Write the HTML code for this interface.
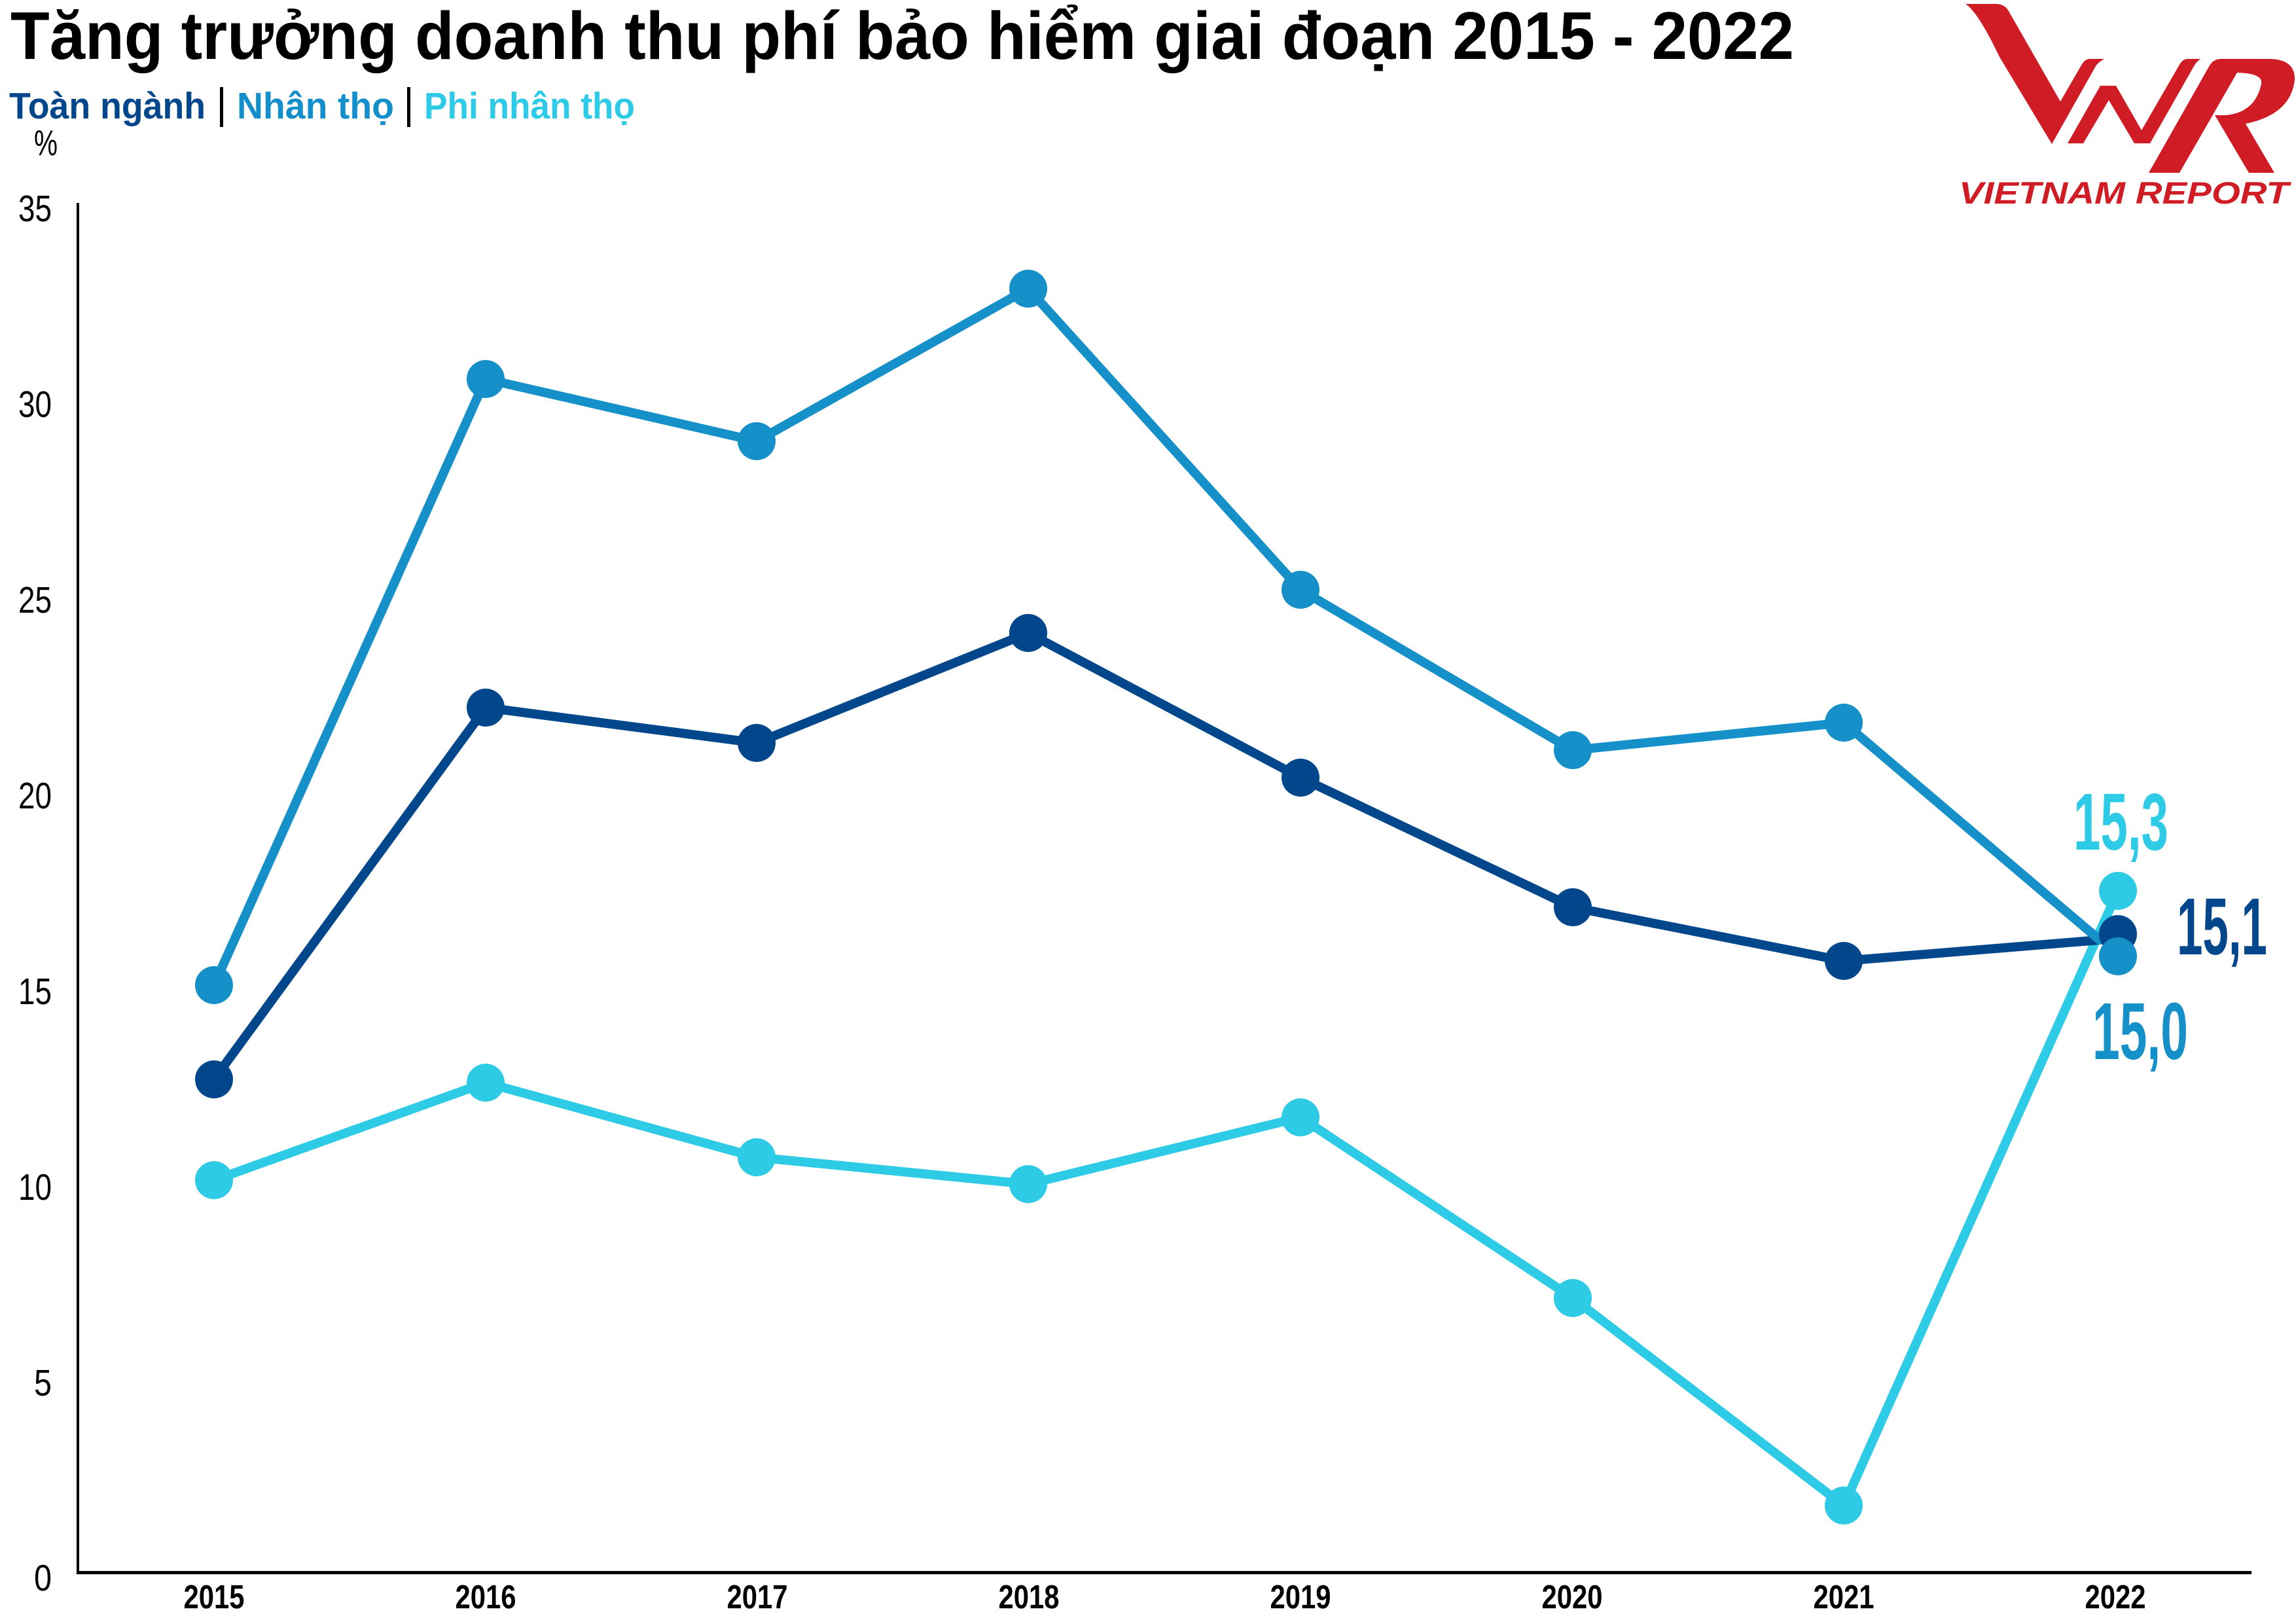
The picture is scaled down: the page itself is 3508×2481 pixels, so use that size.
<!DOCTYPE html>
<html><head><meta charset="utf-8"><style>
html,body{margin:0;padding:0;background:#fff;}
svg{display:block;}
text{font-family:"Liberation Sans",sans-serif;}
</style></head><body>
<svg width="3508" height="2481" viewBox="0 0 3508 2481" xmlns="http://www.w3.org/2000/svg">
<rect width="3508" height="2481" fill="#fff"/>
<!-- Title -->
<text x="16" y="90" font-size="103" font-weight="bold" fill="#000" textLength="2725" lengthAdjust="spacingAndGlyphs">Tăng trưởng doanh thu phí bảo hiểm giai đoạn 2015 - 2022</text>
<!-- Legend -->
<text x="14" y="181" font-size="57" font-weight="bold" fill="#02478c" textLength="300" lengthAdjust="spacingAndGlyphs">Toàn ngành</text>
<rect x="336" y="133" width="5" height="61" fill="#000"/>
<text x="362" y="181" font-size="57" font-weight="bold" fill="#1390cb" textLength="240" lengthAdjust="spacingAndGlyphs">Nhân thọ</text>
<rect x="622" y="133" width="5" height="61" fill="#000"/>
<text x="648" y="181" font-size="57" font-weight="bold" fill="#2ecbe8" textLength="322" lengthAdjust="spacingAndGlyphs">Phi nhân thọ</text>
<text x="52" y="237" font-size="55" fill="#000" textLength="36" lengthAdjust="spacingAndGlyphs">%</text>

<!-- Logo -->
<g fill="#cf1c25">
<path d="M3003,6 L3049,6 Q3063,6 3069,17 L3148,155 L3181,98 Q3186,90 3193,90 L3215,90 Q3205,96 3202,101 L3135,220 L3055,87 Q3022,18 3003,6 Z"/>
<path d="M3159,219 L3209,131 L3233,131 L3272,199 L3331,97 Q3336,90 3342,90 L3362,90 Q3355,95 3351,103 L3285,219 L3261,219 L3222,153 L3183,219 Z"/>
<path d="M3283,264 L3376,100 Q3382,90 3394,90 L3466,90 Q3507,90 3506,122 Q3500,175 3431,189 L3475,264 L3436,264 L3384,176 L3400,176 Q3446,172 3455,128 Q3458,112 3418,111 L3330,264 Z"/>
<text x="2993" y="311" font-size="47" font-weight="bold" font-style="italic" textLength="504" lengthAdjust="spacingAndGlyphs">VIETNAM REPORT</text>
</g>

<!-- Axes -->
<rect x="117" y="310" width="4" height="2095" fill="#000"/>
<rect x="117" y="2400" width="3323" height="5" fill="#000"/>

<!-- Y tick labels -->
<g font-size="57" fill="#000" text-anchor="end">
<text x="79" y="338" textLength="51" lengthAdjust="spacingAndGlyphs">35</text>
<text x="79" y="637" textLength="51" lengthAdjust="spacingAndGlyphs">30</text>
<text x="79" y="936" textLength="51" lengthAdjust="spacingAndGlyphs">25</text>
<text x="79" y="1235" textLength="51" lengthAdjust="spacingAndGlyphs">20</text>
<text x="79" y="1534" textLength="51" lengthAdjust="spacingAndGlyphs">15</text>
<text x="79" y="1833" textLength="51" lengthAdjust="spacingAndGlyphs">10</text>
<text x="79" y="2132" textLength="27" lengthAdjust="spacingAndGlyphs">5</text>
<text x="79" y="2430" textLength="27" lengthAdjust="spacingAndGlyphs">0</text>
</g>

<!-- X tick labels -->
<g font-size="51" font-weight="bold" fill="#000" text-anchor="middle">
<text x="327" y="2457" textLength="93" lengthAdjust="spacingAndGlyphs">2015</text>
<text x="742" y="2457" textLength="93" lengthAdjust="spacingAndGlyphs">2016</text>
<text x="1157" y="2457" textLength="93" lengthAdjust="spacingAndGlyphs">2017</text>
<text x="1572" y="2457" textLength="93" lengthAdjust="spacingAndGlyphs">2018</text>
<text x="1987" y="2457" textLength="93" lengthAdjust="spacingAndGlyphs">2019</text>
<text x="2402" y="2457" textLength="93" lengthAdjust="spacingAndGlyphs">2020</text>
<text x="2817" y="2457" textLength="93" lengthAdjust="spacingAndGlyphs">2021</text>
<text x="3232" y="2457" textLength="93" lengthAdjust="spacingAndGlyphs">2022</text>
</g>

<!-- Lines -->
<g fill="none" stroke-width="14" stroke-linejoin="round" stroke-linecap="round">
<polyline stroke="#2ecbe7" points="327,1803 742,1654 1156,1768 1571,1809 1987,1707 2403,1983 2817,2300 3236,1361"/>
<polyline stroke="#02478b" points="327,1649 742,1081 1156,1135 1571,967 1987,1188 2403,1386 2817,1468 3208,1436"/>
<polyline stroke="#1590c9" points="327,1505 742,579 1156,674 1571,441 1987,901 2403,1146 2817,1104 3208,1436"/>
</g>

<!-- Markers -->
<g fill="#2ecbe7">
<circle cx="327" cy="1803" r="29"/><circle cx="742" cy="1654" r="29"/><circle cx="1156" cy="1768" r="29"/><circle cx="1571" cy="1809" r="29"/><circle cx="1987" cy="1707" r="29"/><circle cx="2403" cy="1983" r="29"/><circle cx="2817" cy="2300" r="29"/><circle cx="3236" cy="1361" r="29"/>
</g>
<g fill="#02478b">
<circle cx="327" cy="1649" r="29"/><circle cx="742" cy="1081" r="29"/><circle cx="1156" cy="1135" r="29"/><circle cx="1571" cy="967" r="29"/><circle cx="1987" cy="1188" r="29"/><circle cx="2403" cy="1386" r="29"/><circle cx="2817" cy="1468" r="29"/><circle cx="3236" cy="1427" r="29"/>
</g>
<g fill="#1590c9">
<circle cx="327" cy="1505" r="29"/><circle cx="742" cy="579" r="29"/><circle cx="1156" cy="674" r="29"/><circle cx="1571" cy="441" r="29"/><circle cx="1987" cy="901" r="29"/><circle cx="2403" cy="1146" r="29"/><circle cx="2817" cy="1104" r="29"/><circle cx="3236" cy="1461" r="29"/>
</g>

<!-- Value labels -->
<g font-size="123" font-weight="bold">
<text x="3168" y="1298" fill="#2ecbe7" textLength="145" lengthAdjust="spacingAndGlyphs">15,3</text>
<text x="3326" y="1458" fill="#02478b" textLength="138" lengthAdjust="spacingAndGlyphs">15,1</text>
<text x="3197" y="1618" fill="#1590c9" textLength="146" lengthAdjust="spacingAndGlyphs">15,0</text>
</g>
</svg>
</body></html>
